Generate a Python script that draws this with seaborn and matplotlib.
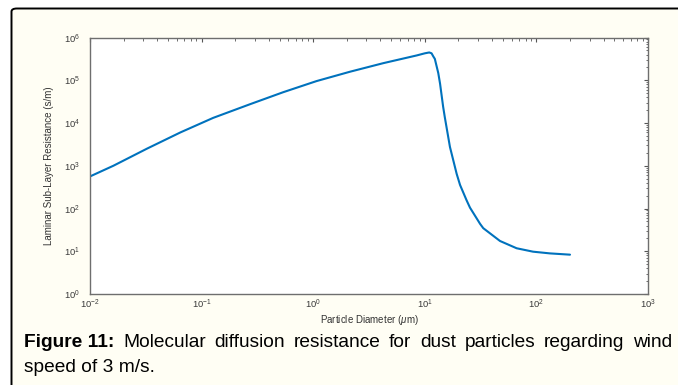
import numpy as np
import pandas as pd
import matplotlib
matplotlib.use("Agg")
import matplotlib.pyplot as plt
import seaborn as sns
from matplotlib.patches import FancyBboxPatch
from matplotlib.ticker import LogLocator, NullFormatter

# ---- data ----
diameter_um = [0.01, 0.0162, 0.0324, 0.0646, 0.127, 0.272, 0.538, 1.07, 2.14,
               4.25, 8.45, 10.0, 10.96, 11.5, 11.9, 12.3, 13.2, 13.7, 14.6,
               15.1, 16.8, 19.3, 20.7, 23.7, 25.4, 31.3, 33.4, 47.2, 66.5,
               93.3, 132.0, 200.0]
log_resistance = [2.75, 3.0, 3.40, 3.78, 4.12, 4.44, 4.72, 4.98, 5.20,
                  5.40, 5.58, 5.63, 5.65, 5.63, 5.56, 5.50, 5.17, 4.92, 4.38,
                  4.14, 3.44, 2.81, 2.55, 2.19, 2.02, 1.64, 1.54, 1.24, 1.07,
                  0.99, 0.95, 0.92]
resistance = [10 ** v for v in log_resistance]

x_label = r"Particle Diameter ($\mu$m)"
y_label = "Laminar Sub-Layer Resistance (s/m)"
caption_bold = "Figure 11:"
caption_line1 = "Molecular diffusion resistance for dust particles regarding wind"
caption_line2 = "speed of 3 m/s."

df = pd.DataFrame({"d": diameter_um, "r": resistance})

sns.set_theme(style="white")
plt.rcParams["font.family"] = ["Liberation Sans", "DejaVu Sans"]
plt.rcParams["mathtext.fontset"] = "custom"
plt.rcParams["mathtext.rm"] = "Liberation Sans"
plt.rcParams["mathtext.it"] = "Liberation Sans:italic"
plt.rcParams["mathtext.bf"] = "Liberation Sans:bold"

W, H = 678, 385
fig = plt.figure(figsize=(W / 100, H / 100), dpi=100)
fig.patch.set_facecolor("white")

# cream panel with border
panel = FancyBboxPatch((11.5 / W, -0.05), 1.2, 1 - 8.5 / H + 0.05,
                       boxstyle="round,pad=0,rounding_size=0.008",
                       transform=fig.transFigure, facecolor="#FFFEF4",
                       edgecolor="black", linewidth=1.4, zorder=-10)
fig.patches.append(panel)

ax = fig.add_axes([90 / W, 1 - 294 / H, (648 - 90) / W, (294 - 37.5) / H])
ax.set_zorder(5)
ax.set_facecolor("white")
sns.lineplot(data=df, x="d", y="r", ax=ax, sort=False, estimator=None,
             color="#0072BD", linewidth=1.5)
for ln in ax.get_lines():
    ln.set_solid_joinstyle("round")
    ln.set_solid_capstyle("round")
ax.set_xscale("log")
ax.set_yscale("log")
ax.set_xlim(1e-2, 1e3)
ax.set_ylim(1e0, 1e6)

ax.xaxis.set_major_locator(LogLocator(base=10, numticks=10))
ax.yaxis.set_major_locator(LogLocator(base=10, numticks=10))
ax.xaxis.set_minor_locator(LogLocator(base=10, subs=np.arange(2, 10), numticks=20))
ax.yaxis.set_minor_locator(LogLocator(base=10, subs=np.arange(2, 10), numticks=20))
ax.xaxis.set_minor_formatter(NullFormatter())
ax.yaxis.set_minor_formatter(NullFormatter())

for s in ax.spines.values():
    s.set_color("#6e6e6e")
    s.set_linewidth(1.0)
ax.tick_params(which="both", direction="in", top=True, right=True,
               color="#555555", labelcolor="#3a3a3a")
ax.tick_params(which="major", length=3, width=0.8, labelsize=6.8)
ax.tick_params(which="minor", length=1.8, width=0.6)
ax.tick_params(axis="x", which="major", pad=3)
ax.tick_params(axis="y", which="major", pad=7)

ax.set_xlabel(x_label, fontsize=7, color="#333333", labelpad=1)
ax.set_ylabel(y_label, fontsize=7, color="#333333", labelpad=7)

# ---- caption (justified first line) ----
fig.canvas.draw()
renderer = fig.canvas.get_renderer()
fs = 13.8
left_px, right_px = 24, 672
y1 = 1 - 347 / H
y2 = 1 - 372 / H

words = [(caption_bold, "bold")] + [(w, "normal") for w in caption_line1.split()]
texts = []
widths = []
for w, wt in words:
    t = fig.text(0, y1, w, fontsize=fs, fontweight=wt, color="black",
                 ha="left", va="baseline")
    bb = t.get_window_extent(renderer)
    texts.append(t)
    widths.append(bb.width)
total = sum(widths)
gap = (right_px - left_px - total) / (len(words) - 1)
x = left_px
for t, wdt in zip(texts, widths):
    t.set_x(x / W)
    x += wdt + gap

fig.text(left_px / W, y2, caption_line2, fontsize=fs, color="black",
         ha="left", va="baseline")

fig.savefig("out.png", dpi=100, facecolor=fig.get_facecolor())
